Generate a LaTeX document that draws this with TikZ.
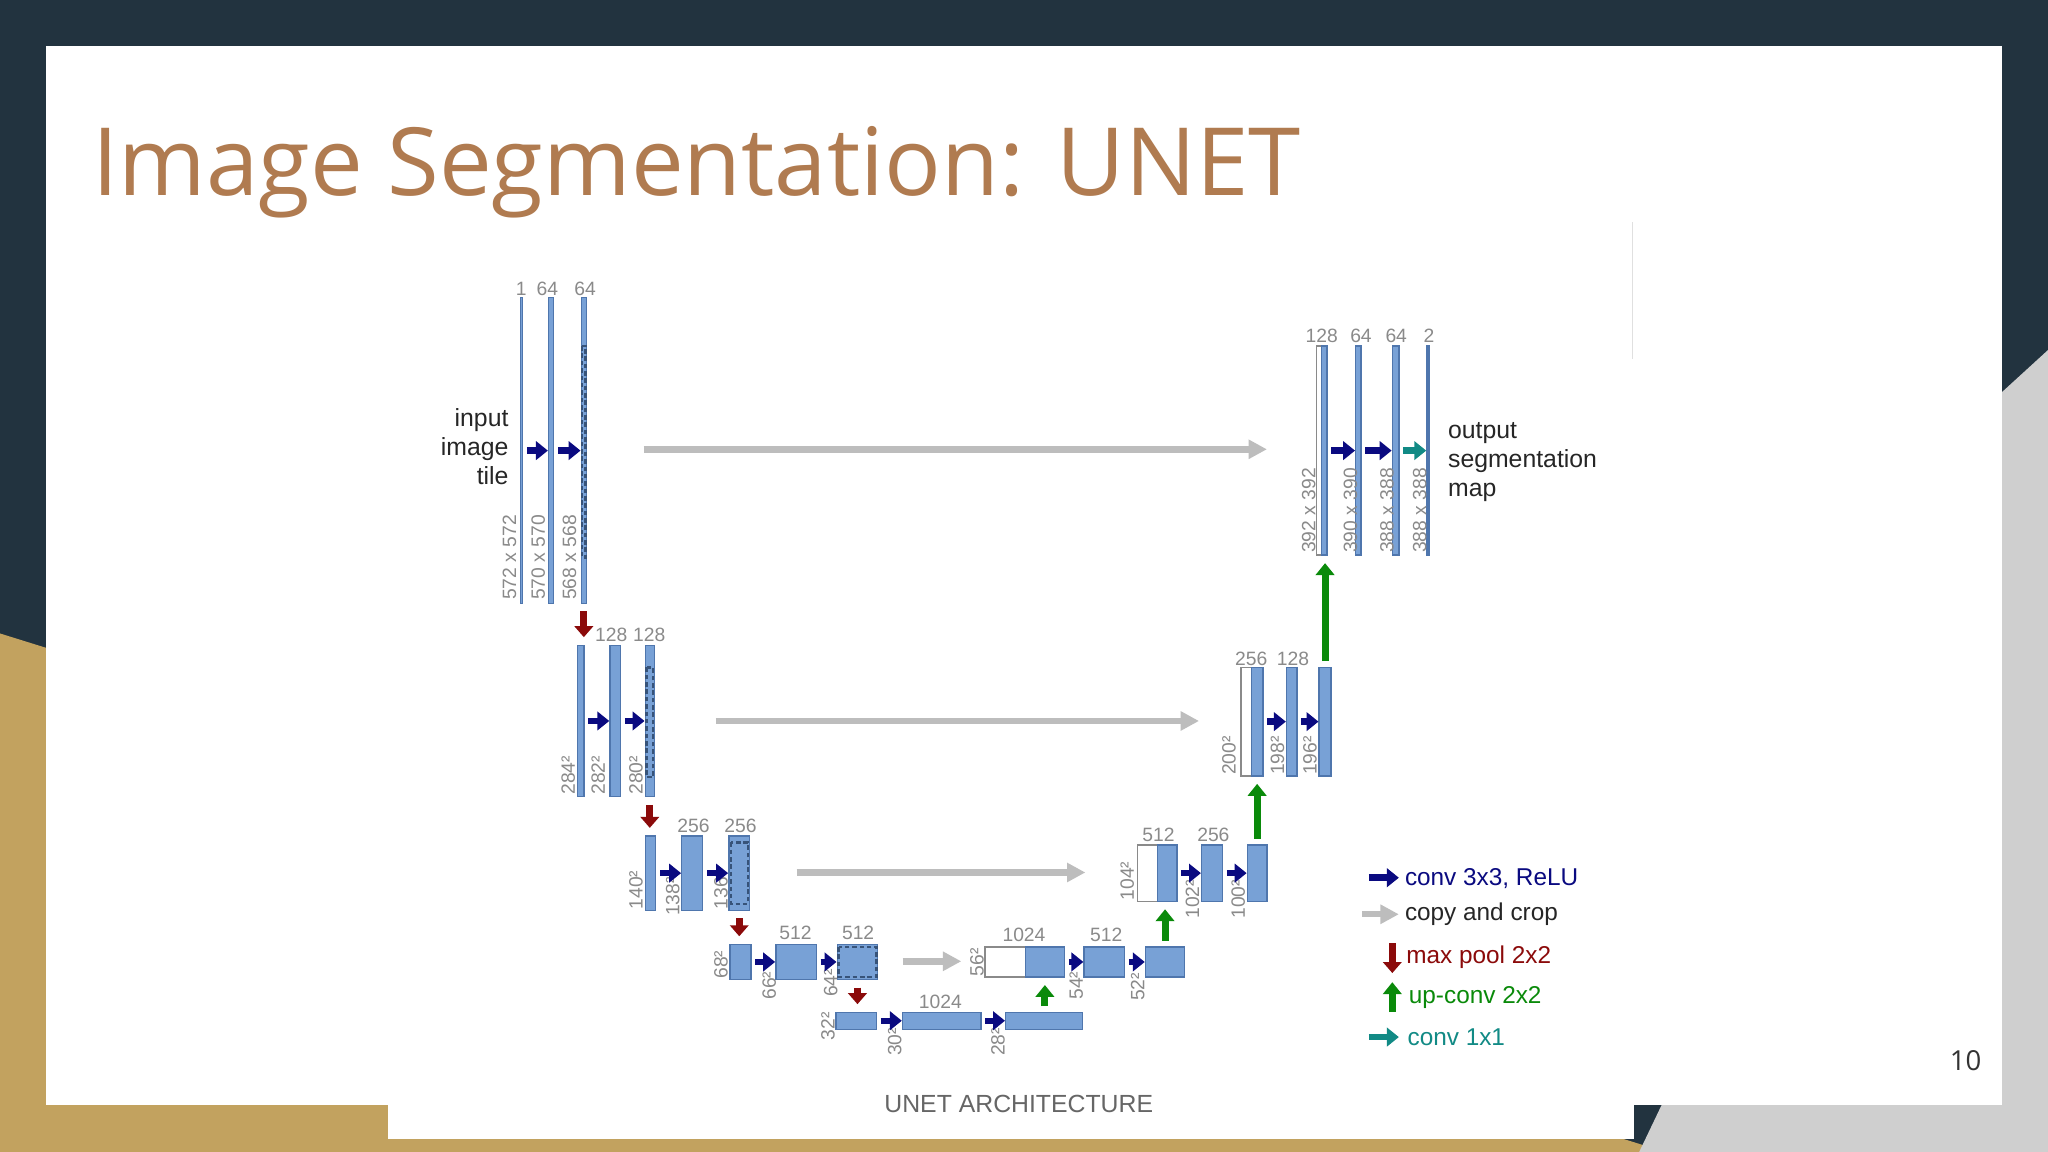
\documentclass[tikz,border=0pt]{standalone}
\usepackage{fontspec}
\setmainfont{Liberation Sans}
\newfontfamily\titlefont{Open Sans}
\usetikzlibrary{arrows.meta,fit}
\definecolor{navybg}{HTML}{22333F}
\definecolor{goldbg}{HTML}{C2A25F}
\definecolor{graybg}{HTML}{CFCFCF}
\definecolor{titlec}{HTML}{B07B50}
\definecolor{barfill}{HTML}{78A1D6}
\definecolor{bardraw}{HTML}{4F76AD}
\definecolor{cnavy}{HTML}{0A0A80}
\definecolor{cred}{HTML}{8B0A0A}
\definecolor{cgreen}{HTML}{0A8A0A}
\definecolor{cteal}{HTML}{118A85}
\definecolor{cgray}{HTML}{BDBDBD}
\definecolor{lbl}{HTML}{8A8A8A}
\tikzset{
  bar/.style={draw=bardraw,fill=barfill,line width=0.3pt,inner sep=0pt,minimum size=0pt},
  wbar/.style={draw=lbl,fill=white,line width=0.3pt,inner sep=0pt,minimum size=0pt},
  dotbox/.style={draw=bardraw!70!black,dashed,dash pattern=on 1pt off 0.6pt,line width=0.5pt},
  conv/.style={draw=cnavy,line width=1.4pt,-{Triangle[length=2.6pt,width=4pt]},shorten <=0.8pt},
  copy/.style={draw=cgray,line width=1.4pt,-{Triangle[length=4pt,width=4pt]}},
  pool/.style={draw=cred,line width=1.5pt,-{Triangle[length=2.4pt,width=4pt]},shorten <=1.6pt,shorten >=1.6pt},
  up/.style={draw=cgreen,line width=1.5pt,-{Triangle[length=2.6pt,width=4pt]},shorten <=1.2pt,shorten >=1.6pt},
  one/.style={draw=cteal,line width=1.4pt,-{Triangle[length=2.6pt,width=4pt]},shorten <=0.8pt},
  num/.style={font=\fontsize{4.2}{5}\selectfont,text=lbl,inner sep=0pt,anchor=south},
  rnum/.style={font=\fontsize{4.2}{5}\selectfont,text=lbl,inner sep=0pt,rotate=90,anchor=west},
  side/.style={font=\fontsize{5.4}{6.3}\selectfont,text=black!85,inner sep=0pt,align=left},
  leg/.style={font=\fontsize{5.3}{6}\selectfont,inner sep=0pt,anchor=west},
}
\newcommand\blk[6][bar]{\node[#1,fit={(#3,#4)(#5,#6)}] (#2) {};}
\begin{document}
\begin{tikzpicture}[x=0.01cm,y=-0.01cm]
\useasboundingbox (0,0) rectangle (1568,882);
% background
\fill[navybg] (0,0) rectangle (1568,882);
\fill[goldbg] (0,485) -- (1275,882) -- (0,882) -- cycle;
\fill[graybg] (1568,268) -- (1568,882) -- (1255,882) -- (1533,300) -- cycle;
\fill[white] (35,35) rectangle (1533,846);
\fill[white] (297,168) rectangle (1251,872);
\draw[black!12,line width=0.3pt] (1250,170) -- (1250,275);
\node[font=\titlefont\fontsize{20.5}{24}\selectfont,text=titlec,anchor=base west,inner sep=0pt] (title) at (70,150) {Image Segmentation: UNET};
\node[font=\titlefont\fontsize{6}{7}\selectfont,text=black!80,inner sep=0pt] (pg) at (1505,812) {10};

% ---- level 1 down
\blk{d1a}{398.5}{228}{400}{462}
\blk{d1b}{420}{228}{424}{462}
\blk{d1c}{445}{228}{449}{462}
\draw[dotbox] (445.8,265) rectangle (448.2,427);
\node[num] (n1a) at (399,227) {1};
\node[num] (n1b) at (419,227) {64};
\node[num] (n1c) at (448,227) {64};
\node[rnum] (r1a) at (390,460) {572 x 572};
\node[rnum] (r1b) at (412,460) {570 x 570};
\node[rnum] (r1c) at (436,460) {568 x 568};
\node[side,align=right,anchor=east] (inp) at (390,342) {input\\image\\tile};
\draw[conv] (d1a) -- (d1b);
\draw[conv] (d1b) -- (d1c);

% ---- level 2 down
\blk{d2a}{442}{494}{447}{610}
\blk{d2b}{467}{494}{475}{610}
\blk{d2c}{494}{494}{501}{610}
\draw[dotbox] (495,511) rectangle (500,595);
\node[num] (n2b) at (468,492) {128};
\node[num] (n2c) at (497,492) {128};
\node[rnum] (r2a) at (435,609) {284²};
\node[rnum] (r2b) at (458,609) {282²};
\node[rnum] (r2c) at (487,609) {280²};
\draw[conv] (d2a) -- (d2b);
\draw[conv] (d2b) -- (d2c);

% ---- level 3 down
\blk{d3a}{494}{640}{502}{697}
\blk{d3b}{522}{640}{538}{697}
\blk{d3c}{558}{640}{574}{697}
\draw[dotbox] (559.5,645) rectangle (572.5,692);
\node[num] (n3b) at (531,638) {256};
\node[num] (n3c) at (567,638) {256};
\node[rnum] (r3a) at (487,697) {140²};
\node[rnum] (r3b) at (515,702) {138²};
\node[rnum] (r3c) at (552,697) {136²};
\draw[conv] (d3a) -- (d3b);
\draw[conv] (d3b) -- (d3c);

% ---- level 4 down
\blk{d4a}{559}{723}{575}{750}
\blk{d4b}{594}{723}{625}{750}
\blk{d4c}{641}{723}{672}{750}
\draw[dotbox] (642,725) rectangle (671,748);
\node[num] (n4b) at (609,720) {512};
\node[num] (n4c) at (657,720) {512};
\node[rnum] (r4a) at (552,750) {68²};
\node[rnum] (r4b) at (589,766) {66²};
\node[rnum] (r4c) at (636,764) {64²};
\draw[conv] (d4a) -- (d4b);
\draw[conv] (d4b) -- (d4c);

% ---- level 5 bottom
\blk{d5a}{640}{775}{671}{788}
\blk{d5b}{691}{775}{751}{788}
\blk{d5c}{770}{775}{829}{788}
\node[num] (n5b) at (720,773) {1024};
\node[rnum] (r5a) at (634,797) {32²};
\node[rnum] (r5b) at (685,809) {30²};
\node[rnum] (r5c) at (764,809) {28²};
\draw[conv] (d5a) -- (d5b);
\draw[conv] (d5b) -- (d5c);

% ---- up level 4
\blk[wbar]{u4a}{754}{725}{785}{748}
\blk{u4b}{785}{725}{815}{748}
\blk{u4c}{830}{725}{861}{748}
\blk{u4d}{877}{725}{907}{748}
\node[num] (n4u) at (784,722) {1024};
\node[num] (n4v) at (847,722) {512};
\node[rnum] (r4u) at (748,748) {56²};
\node[rnum] (r4v) at (824,766) {54²};
\node[rnum] (r4w) at (871,767) {52²};
\draw[conv] (u4b) -- (u4c);
\draw[conv] (u4c) -- (u4d);

% ---- up level 3
\blk[wbar]{u3a}{871}{647}{886}{690}
\blk{u3b}{886}{647}{901}{690}
\blk{u3c}{920}{647}{936}{690}
\blk{u3d}{955}{647}{970}{690}
\node[num] (n3u) at (887,645) {512};
\node[num] (n3v) at (929,645) {256};
\node[rnum] (r3u) at (863,690) {104²};
\node[rnum] (r3v) at (913,704) {102²};
\node[rnum] (r3w) at (948,704) {100²};
\draw[conv] (u3b) -- (u3c);
\draw[conv] (u3c) -- (u3d);

% ---- up level 2
\blk[wbar]{u2a}{950}{511}{958}{594}
\blk{u2b}{958}{511}{967}{594}
\blk{u2c}{985}{511}{993}{594}
\blk{u2d}{1010}{511}{1019}{594}
\node[num] (n2u) at (958,510) {256};
\node[num] (n2v) at (990,510) {128};
\node[rnum] (r2u) at (941,594) {200²};
\node[rnum] (r2v) at (978,594) {198²};
\node[rnum] (r2w) at (1003,594) {196²};
\draw[conv] (u2b) -- (u2c);
\draw[conv] (u2c) -- (u2d);

% ---- up level 1
\blk[wbar]{u1a}{1008}{265}{1012}{425}
\blk{u1b}{1012}{265}{1016}{425}
\blk{u1c}{1038}{265}{1042}{425}
\blk{u1d}{1066}{265}{1071}{425}
\blk{u1e}{1092.5}{265}{1094}{425}
\node[num] (n1u) at (1012,263) {128};
\node[num] (n1v) at (1042,263) {64};
\node[num] (n1w) at (1069,263) {64};
\node[num] (n1x) at (1094,263) {2};
\node[rnum] (r1u) at (1002,424) {392 x 392};
\node[rnum] (r1v) at (1034,424) {390 x 390};
\node[rnum] (r1w) at (1062,424) {388 x 388};
\node[rnum] (r1x) at (1087,424) {388 x 388};
\draw[conv] (u1b) -- (u1c);
\draw[conv] (u1c) -- (u1d);
\draw[one] (u1d) -- (u1e);
\node[side,anchor=west] (outp) at (1108,354) {output\\segmentation\\map};

% ---- copy and crop
\coordinate (c1s) at (493,344); \coordinate (c1e) at (970,344);
\coordinate (c2s) at (548,552); \coordinate (c2e) at (918,552);
\coordinate (c3s) at (610,668); \coordinate (c3e) at (831,668);
\coordinate (c4s) at (691,736); \coordinate (c4e) at (736,736);
\draw[copy] (c1s) -- (c1e);
\draw[copy] (c2s) -- (c2e);
\draw[copy] (c3s) -- (c3e);
\draw[copy] (c4s) -- (c4e);

% ---- max pool
\draw[pool] (d1c.south) -- (d1c.south|-d2a.north);
\draw[pool] (d2c.south) -- (d2c.south|-d3a.north);
\draw[pool] (d3c.south) -- (d3c.south|-d4a.north);
\draw[pool] (d4c.south) -- (d4c.south|-d5a.north);

% ---- up-conv
\draw[up] (d5c.north-|u4b.south) -- (u4b.south);
\draw[up] (u4d.north) -- (u4d.north|-u3b.south);
\draw[up] (u3d.north) -- (u3d.north|-u2b.south);
\draw[up] (u2d.north) -- (u2d.north|-u1b.south);

% ---- legend
\coordinate (l1s) at (1048,672); \coordinate (l1e) at (1071,672);
\coordinate (l2s) at (1043,700); \coordinate (l2e) at (1071,700);
\coordinate (l3s) at (1066,722); \coordinate (l3e) at (1066,745);
\coordinate (l4s) at (1066,775); \coordinate (l4e) at (1066,752);
\coordinate (l5s) at (1048,794); \coordinate (l5e) at (1071,794);
\draw[conv,shorten <=0pt] (l1s) -- (l1e);
\draw[copy] (l2s) -- (l2e);
\draw[pool,shorten <=0pt,shorten >=0pt] (l3s) -- (l3e);
\draw[up,shorten <=0pt,shorten >=0pt] (l4s) -- (l4e);
\draw[one,shorten <=0pt] (l5s) -- (l5e);
\node[leg,text=cnavy] (g1) at (1075,673) {conv 3x3, ReLU};
\node[leg,text=black!85] (g2) at (1075,700) {copy and crop};
\node[leg,text=cred] (g3) at (1076,733) {max pool 2x2};
\node[leg,text=cgreen] (g4) at (1078,764) {up-conv 2x2};
\node[leg,text=cteal] (g5) at (1077,794) {conv 1x1};

\node[font=\fontsize{5.4}{6}\selectfont,text=black!60,inner sep=0pt] (cap) at (780,845) {UNET ARCHITECTURE};
\end{tikzpicture}
\end{document}
